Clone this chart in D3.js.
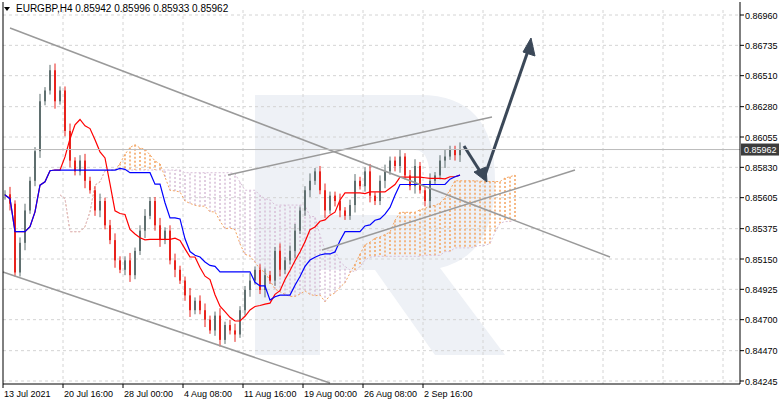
<!DOCTYPE html><html><head><meta charset="utf-8">
<script src="https://cdn.jsdelivr.net/npm/d3@7"></script>
<style>body{margin:0;background:#fff}svg{font-family:"Liberation Sans",Arial,sans-serif}</style></head><body>
<svg id="c" width="782" height="404"></svg>
<script>
// closes (price) sampled per bar
const closes=[0.8563,0.8556,0.8505,0.8527,0.8551,0.8573,0.8595,0.8632,0.8640,0.8655,0.8632,0.8640,0.8610,0.8588,0.8580,0.8588,0.8573,0.8566,0.8551,0.8558,0.8540,0.8529,0.8514,0.8507,0.8514,0.8503,0.8521,0.8536,0.8547,0.8558,0.8540,0.8529,0.8536,0.8514,0.8507,0.8499,0.8488,0.8477,0.8484,0.8477,0.8470,0.8462,0.8473,0.8455,0.8466,0.8462,0.8459,0.8477,0.8492,0.8499,0.8507,0.8492,0.8503,0.8499,0.8521,0.8507,0.8514,0.8521,0.8536,0.8551,0.8566,0.8573,0.8580,0.8566,0.8551,0.8562,0.8558,0.8551,0.8547,0.8555,0.8573,0.8569,0.8580,0.8562,0.8558,0.8573,0.8580,0.8588,0.8584,0.8591,0.8577,0.8569,0.8584,0.8566,0.8558,0.8573,0.8577,0.8588,0.8591,0.8596,0.8592,0.8596];
const wick=[0.0006,0.0011,0.0005,0.0008,0.0010,0.0006];
const yTicks=[0.86960,0.86735,0.86510,0.86280,0.86055,0.85830,0.85605,0.85375,0.85150,0.84925,0.84700,0.84470,0.84245];
const xLabels=["13 Jul 2021","20 Jul 16:00","28 Jul 00:00","4 Aug 08:00","11 Aug 16:00","19 Aug 00:00","26 Aug 08:00","2 Sep 16:00"];
const title="EURGBP,H4  0.85942 0.85996 0.85933 0.85962";
const lastPrice="0.85962";
const shift=11;

const svg=d3.select("#c");
const L=3,R=740,T=10,B=384;
const y=d3.scaleLinear().domain([0.84245,0.86960]).range([381,15]);
const n=closes.length;
const x=d3.scaleLinear().domain([0,n-1]).range([5,460]);
// watermark R
svg.append("path").attr("fill","#eef1f6").attr("d","M255,95 L420,95 Q495,95 495,180 Q495,255 440,268 L505,355 L435,355 L375,270 L320,270 L320,355 L255,355 Z M320,150 L320,215 L415,215 Q430,215 430,182 Q430,150 415,150 Z").attr("fill-rule","evenodd");
// grid
const g=svg.append("g").attr("stroke","#d4d4d4").attr("stroke-dasharray","3,3");
yTicks.forEach(t=>g.append("line").attr("x1",L).attr("x2",R).attr("y1",y(t)).attr("y2",y(t)));
for(let i=1;i<13;i++)g.append("line").attr("x1",L+60*i).attr("x2",L+60*i).attr("y1",T).attr("y2",B);
// ichimoku computed
const hi=closes.map((c,i)=>Math.max(c,i?closes[i-1]:c)+wick[i%6]*0.5);
const lo=closes.map((c,i)=>Math.min(c,i?closes[i-1]:c)-wick[(i+3)%6]*0.5);
const mid=(p,i)=>{const s=Math.max(0,i-p+1);return (d3.max(hi.slice(s,i+1))+d3.min(lo.slice(s,i+1)))/2};
const ten=closes.map((c,i)=>mid(9,i)), kij=closes.map((c,i)=>mid(20,i));
const spanA=[],spanB=[];
for(let i=0;i<n;i++){spanA.push([i+shift,(ten[i]+kij[i])/2]);spanB.push([i+shift,mid(40,i)]);}
const cl=svg.append("g");
spanA.forEach((a,i)=>{const b=spanB[i][1];cl.append("line").attr("x1",x(a[0])).attr("x2",x(a[0])).attr("y1",y(a[1])).attr("y2",y(b)).attr("stroke",a[1]>=b?"#f4a460":"#d8bfd8").attr("stroke-width",1.5).attr("stroke-dasharray","2,2");});
const ln=d3.line().x(d=>x(d[0])).y(d=>y(d[1]));
cl.append("path").datum(spanA).attr("d",ln).attr("fill","none").attr("stroke","#f4a460").attr("stroke-dasharray","2,2");
cl.append("path").datum(spanB).attr("d",ln).attr("fill","none").attr("stroke","#d8bfd8").attr("stroke-dasharray","2,2");
// candles
const cg=svg.append("g");
closes.forEach((c,i)=>{const o=i?closes[i-1]:c;const col=c>=o?"#5f6f6f":"#e8231d";
cg.append("line").attr("x1",x(i)).attr("x2",x(i)).attr("y1",y(hi[i])).attr("y2",y(lo[i])).attr("stroke",col);
cg.append("rect").attr("x",x(i)-1).attr("width",2).attr("y",y(Math.max(o,c))).attr("height",Math.max(1,Math.abs(y(o)-y(c)))).attr("fill",col);});
svg.append("path").datum(ten.map((v,i)=>[i,v])).attr("d",ln).attr("fill","none").attr("stroke","#f00").attr("stroke-width",1.2);
svg.append("path").datum(kij.map((v,i)=>[i,v])).attr("d",ln).attr("fill","none").attr("stroke","#00f").attr("stroke-width",1.2);
// trend lines
const tl=svg.append("g").attr("stroke","#9a9a9a").attr("stroke-width",1.5);
[[10,28,610,257],[3,272,330,383],[228,175,492,117],[322,250,575,170]].forEach(a=>tl.append("line").attr("x1",a[0]).attr("y1",a[1]).attr("x2",a[2]).attr("y2",a[3]));
// arrows
const ar=svg.append("g").attr("stroke","#3b4858").attr("stroke-width",3).attr("fill","#3b4858");
ar.append("path").attr("fill","none").attr("d","M464,146 L483,176");
ar.append("path").attr("stroke-width",1).attr("d","M487,182 L474,172 L486,167 Z");
ar.append("path").attr("fill","none").attr("d","M484,178 L529,48");
ar.append("path").attr("stroke-width",1).attr("d","M531,38 L535,56 L523,52 Z");
// current price line
svg.append("line").attr("x1",L).attr("x2",R).attr("y1",y(0.85962)).attr("y2",y(0.85962)).attr("stroke","#bbb");
// frame
svg.append("path").attr("d",`M${L},${T-8} V${B} H${R} V${T-8}`).attr("fill","none").attr("stroke","#000");
// axes labels
yTicks.forEach(t=>{svg.append("line").attr("x1",R).attr("x2",R+4).attr("y1",y(t)).attr("y2",y(t)).attr("stroke","#000");
svg.append("text").attr("x",R+5).attr("y",y(t)+3.5).attr("font-size",9).text(t.toFixed(5));});
xLabels.forEach((l,i)=>{svg.append("line").attr("x1",L+60*i).attr("x2",L+60*i).attr("y1",B).attr("y2",B+4).attr("stroke","#000");
svg.append("text").attr("x",L+60*i+1).attr("y",B+13).attr("font-size",9).text(l);});
svg.append("rect").attr("x",R+1).attr("y",y(0.85962)-6).attr("width",38).attr("height",12).attr("fill","#3c3c3c");
svg.append("text").attr("x",R+4).attr("y",y(0.85962)+3.5).attr("font-size",9).attr("fill","#fff").text(lastPrice);
svg.append("path").attr("d","M4,7 L10,7 L7,11 Z").attr("fill","#000");
svg.append("text").attr("x",16).attr("y",12).attr("font-size",10).text(title);
</script></body></html>
